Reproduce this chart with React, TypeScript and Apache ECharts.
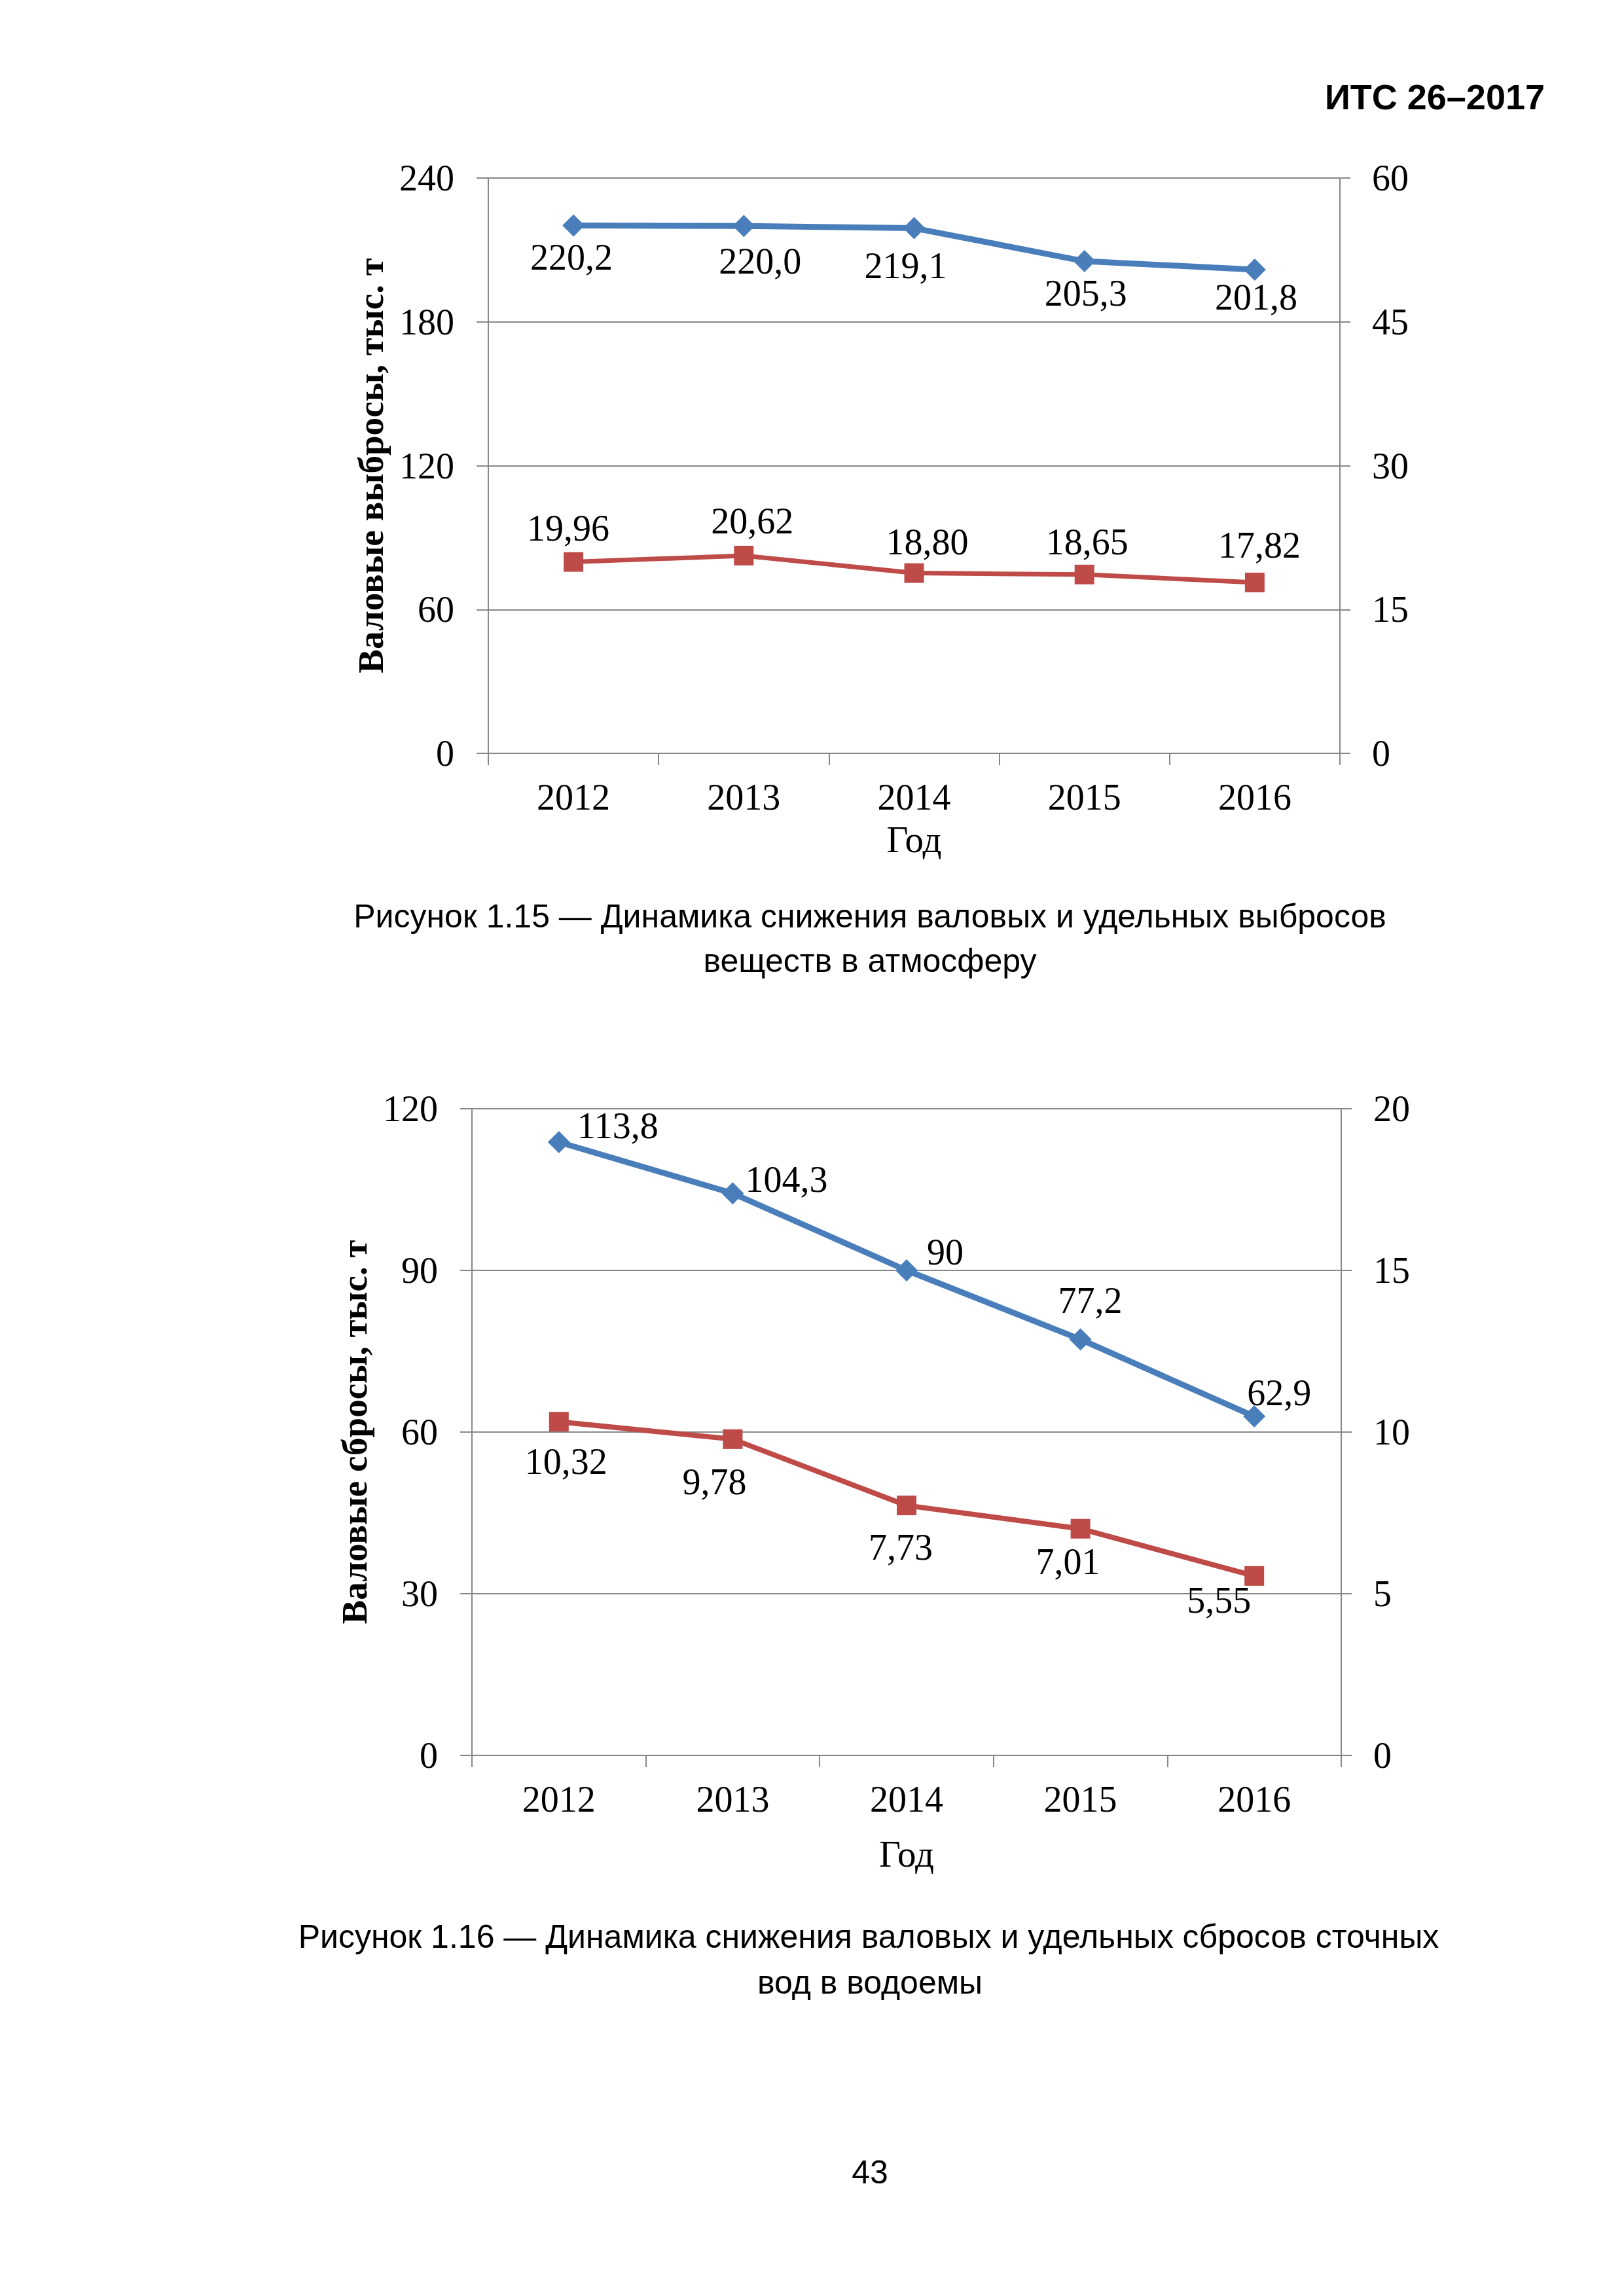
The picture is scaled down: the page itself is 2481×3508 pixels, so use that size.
import React, { useEffect, useRef } from 'react';
import * as echarts from 'echarts';

// ---- data ----
const years = ['2012', '2013', '2014', '2015', '2016'];
// Figure 1.15 (atmosphere)
const grossEmissions = [220.2, 220.0, 219.1, 205.3, 201.8]; // left axis, thousand t
const specificEmissions = [19.96, 20.62, 18.8, 18.65, 17.82]; // right axis
// Figure 1.16 (water bodies)
const grossDischarges = [113.8, 104.3, 90, 77.2, 62.9]; // left axis, thousand t
const specificDischarges = [10.32, 9.78, 7.73, 7.01, 5.55]; // right axis

const c1LeftTicks = { min: 0, max: 240, interval: 60 };
const c1RightTicks = { min: 0, max: 60, interval: 15 };
const c2LeftTicks = { min: 0, max: 120, interval: 30 };
const c2RightTicks = { min: 0, max: 20, interval: 5 };

// ---- label placement (offsets from each point, px) ----
const c1BlueLabelOffsets = [[-3, 48], [25, 54], [-13, 57], [2, 49], [2, 42]];
const c1RedLabelOffsets = [[-8, -52], [13, -53], [20, -48], [4, -50], [7, -57]];
const c2BlueLabelOffsets = [[90, -25], [82, -21], [59, -28], [15, -59], [38, -36]];
const c2RedLabelOffsets = [[11, 61], [-28, 65], [-9, 64], [-19, 50], [-54, 37]];

const SERIF = '"Liberation Serif", "Times New Roman", serif';
const SANS = '"Liberation Sans", Arial, sans-serif';
const GRAY = '#878787';
const BLUE = '#4A7EBB';
const RED = '#BE4B48';
const FS = 56;

const fmt = (decimals: number | null) => (p: any) => {
  const v = typeof p.value === 'number' ? p.value : Number(p.value);
  const s = decimals === null ? String(v) : v.toFixed(decimals);
  return s.replace('.', ',');
};

function makeData(values: number[], offsets: number[][]) {
  return values.map((v, i) => ({ value: v, label: { offset: offsets[i] } }));
}

function xAxisCfg(gridIndex: number, nameGap: number) {
  return {
    type: 'category',
    gridIndex,
    data: years,
    boundaryGap: true,
    axisLine: { show: true, lineStyle: { color: GRAY, width: 2 } },
    axisTick: { show: true, inside: false, length: 18, interval: 0, lineStyle: { color: GRAY, width: 2 } },
    axisLabel: { color: '#000', fontSize: FS, fontFamily: SERIF, margin: 39 },
    splitLine: { show: false },
    name: 'Год',
    nameLocation: 'middle',
    nameGap,
    nameTextStyle: { color: '#000', fontSize: 57, fontFamily: SERIF },
  };
}

function yLeftCfg(gridIndex: number, ticks: any, name: string) {
  return {
    type: 'value',
    gridIndex,
    position: 'left',
    ...ticks,
    axisLine: { show: true, lineStyle: { color: GRAY, width: 2 } },
    axisTick: { show: true, inside: false, length: 18, lineStyle: { color: GRAY, width: 2 } },
    axisLabel: { color: '#000', fontSize: FS, fontFamily: SERIF, margin: 52 },
    splitLine: { show: true, lineStyle: { color: GRAY, width: 2 } },
    name,
    nameLocation: 'middle',
    nameGap: 152,
    nameRotate: 90,
    nameTextStyle: { color: '#000', fontSize: 55, fontWeight: 'bold', fontFamily: SERIF },
  };
}

function yRightCfg(gridIndex: number, ticks: any) {
  return {
    type: 'value',
    gridIndex,
    position: 'right',
    ...ticks,
    axisLine: { show: true, lineStyle: { color: GRAY, width: 2 } },
    axisTick: { show: true, inside: false, length: 16, lineStyle: { color: GRAY, width: 2 } },
    axisLabel: { color: '#000', fontSize: FS, fontFamily: SERIF, margin: 49 },
    splitLine: { show: false },
  };
}

function lineSeries(
  xi: number,
  yi: number,
  values: number[],
  offsets: number[][],
  color: string,
  symbol: string,
  symbolSize: number,
  width: number,
  decimals: number | null
) {
  return {
    type: 'line',
    xAxisIndex: xi,
    yAxisIndex: yi,
    data: makeData(values, offsets),
    symbol,
    symbolSize,
    showSymbol: true,
    itemStyle: { color },
    lineStyle: { color, width },
    label: {
      show: true,
      position: 'inside',
      color: '#000',
      fontSize: FS,
      fontFamily: SERIF,
      textBorderWidth: 0,
      formatter: fmt(decimals),
    },
    z: 3,
  };
}

export default function App() {
  const ref = useRef<HTMLDivElement>(null);
  useEffect(() => {
    document.body.style.margin = '0';
    const chart = echarts.init(ref.current!, null, { renderer: 'svg' });
    const option: any = {
      animation: false,
      backgroundColor: '#fff',
      grid: [
        { left: 746, top: 272, width: 1301, height: 879, containLabel: false },
        { left: 721, top: 1694, width: 1328, height: 988, containLabel: false },
      ],
      xAxis: [xAxisCfg(0, 103), xAxisCfg(1, 122)],
      yAxis: [
        yLeftCfg(0, c1LeftTicks, 'Валовые выбросы, тыс. т'),
        yRightCfg(0, c1RightTicks),
        yLeftCfg(1, c2LeftTicks, 'Валовые сбросы, тыс. т'),
        yRightCfg(1, c2RightTicks),
      ],
      series: [
        lineSeries(0, 0, grossEmissions, c1BlueLabelOffsets, BLUE, 'diamond', 34, 9, 1),
        lineSeries(0, 1, specificEmissions, c1RedLabelOffsets, RED, 'rect', 30, 7, 2),
        lineSeries(1, 2, grossDischarges, c2BlueLabelOffsets, BLUE, 'diamond', 34, 9, null),
        lineSeries(1, 3, specificDischarges, c2RedLabelOffsets, RED, 'rect', 30, 8, 2),
      ],
      graphic: [
        {
          type: 'text', x: 2360, y: 148,
          style: { text: 'ИТС 26–2017', textAlign: 'right', textVerticalAlign: 'middle', fill: '#000', font: `bold 54px ${SANS}` },
        },
        {
          type: 'text', x: 1329, y: 1400,
          style: { text: 'Рисунок 1.15 — Динамика снижения валовых и удельных выбросов', textAlign: 'center', textVerticalAlign: 'middle', fill: '#000', font: `50px ${SANS}` },
        },
        {
          type: 'text', x: 1329, y: 1468,
          style: { text: 'веществ в атмосферу', textAlign: 'center', textVerticalAlign: 'middle', fill: '#000', font: `50px ${SANS}` },
        },
        {
          type: 'text', x: 1327, y: 2959,
          style: { text: 'Рисунок 1.16 — Динамика снижения валовых и удельных сбросов сточных', textAlign: 'center', textVerticalAlign: 'middle', fill: '#000', font: `50px ${SANS}` },
        },
        {
          type: 'text', x: 1329, y: 3029,
          style: { text: 'вод в водоемы', textAlign: 'center', textVerticalAlign: 'middle', fill: '#000', font: `50px ${SANS}` },
        },
        {
          type: 'text', x: 1329, y: 3319,
          style: { text: '43', textAlign: 'center', textVerticalAlign: 'middle', fill: '#000', font: `50px ${SANS}` },
        },
      ],
    };
    chart.setOption(option);
    return () => chart.dispose();
  }, []);
  return (
    <div
      ref={ref}
      style={{ position: 'absolute', left: 0, top: 0, width: 2481, height: 3508, background: '#fff' }}
    />
  );
}
